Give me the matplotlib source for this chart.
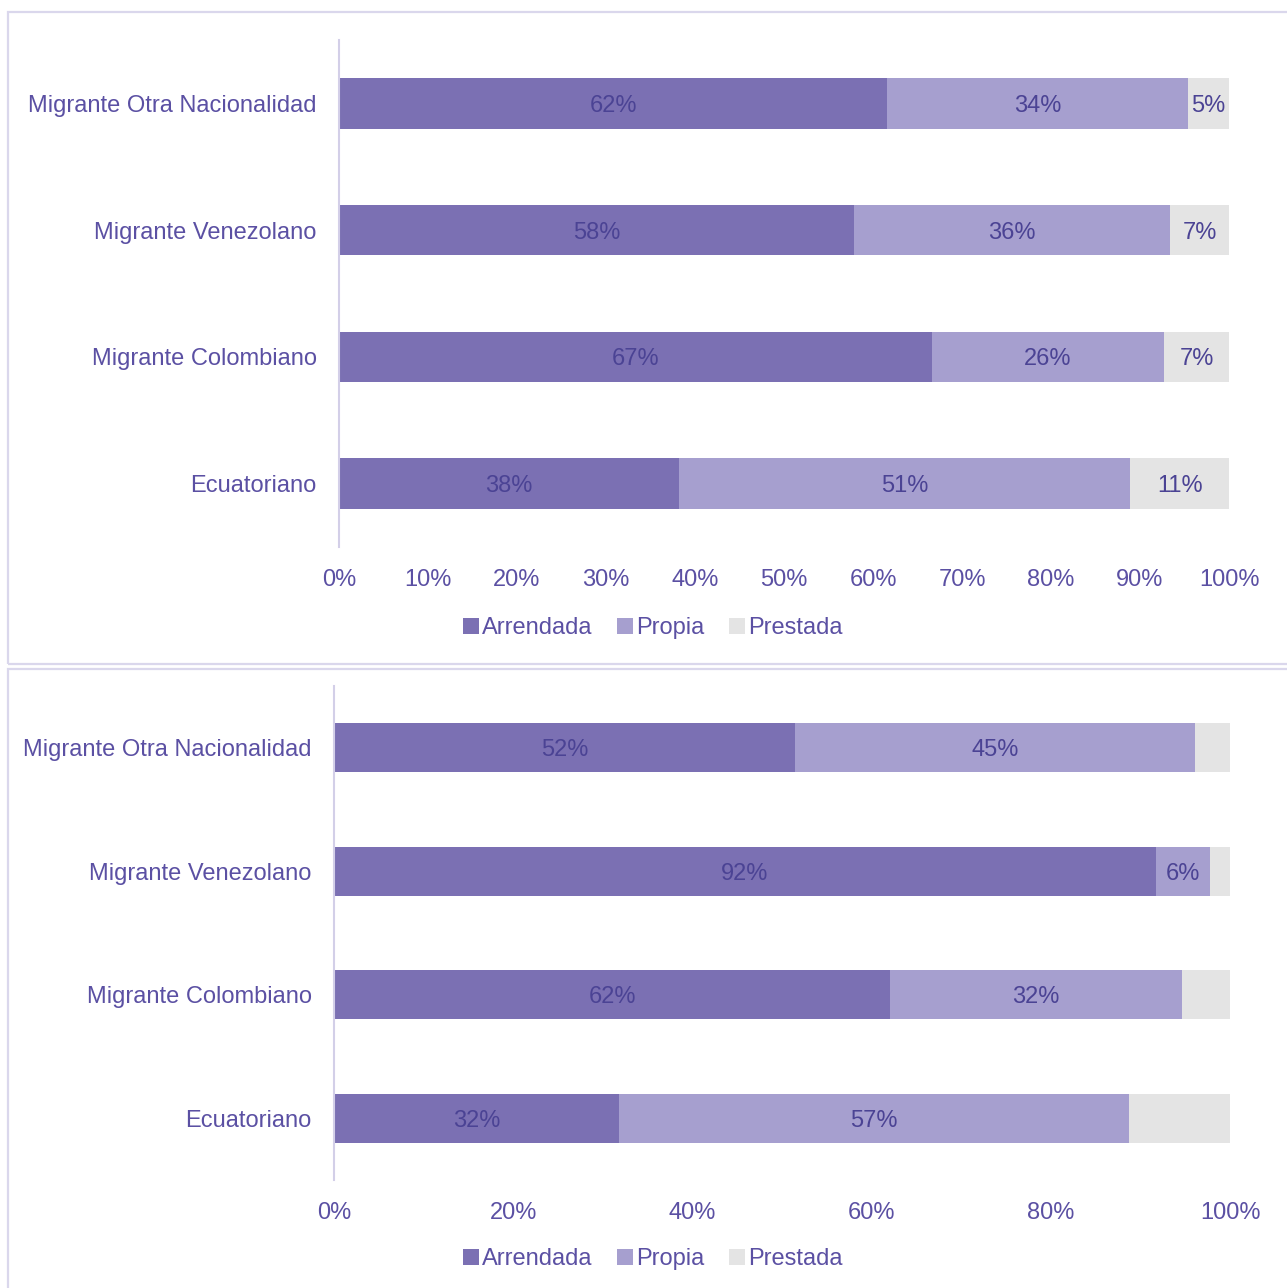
import matplotlib
matplotlib.use("Agg")
import matplotlib.pyplot as plt
from matplotlib.patches import Rectangle

plt.rcParams['font.family'] = ['Liberation Sans', 'DejaVu Sans']

# --- data
categorias = ["Migrante Otra Nacionalidad", "Migrante Venezolano",
              "Migrante Colombiano", "Ecuatoriano"]
series = ["Arrendada", "Propia", "Prestada"]

# panel superior
arrendada_1 = [61.6, 57.9, 66.6, 38.2]
propia_1 = [33.8, 35.5, 26.1, 50.7]
prestada_1 = [4.6, 6.6, 7.3, 11.1]

# panel inferior
arrendada_2 = [51.5, 91.7, 62.1, 31.8]
propia_2 = [44.6, 6.1, 32.5, 56.9]
prestada_2 = [3.9, 2.2, 5.4, 11.3]

ticks_1 = [0, 10, 20, 30, 40, 50, 60, 70, 80, 90, 100]
ticks_2 = [0, 20, 40, 60, 80, 100]
# ---

colores = ["#7B70B3", "#A69FCF", "#E4E4E4"]
txt_color = "#5B50A3"
lbl_color = "#4B4394"
borde = "#DAD7EC"
W, H = 1287, 1288
FS = 17

fig = plt.figure(figsize=(W / 100, H / 100), dpi=100)

# marcos de los paneles
fig.patches.append(Rectangle((8 / W, 1 - 664 / H), 1.1, 652 / H, transform=fig.transFigure,
                             fill=False, edgecolor=borde, linewidth=1.6))
fig.patches.append(Rectangle((8 / W, -0.1), 1.1, 0.1 + 1 - 669 / H, transform=fig.transFigure,
                             fill=False, edgecolor=borde, linewidth=1.6))


def panel(box, valores, ticks, etiquetar_prestada, legend_y):
    l, t, r, b = box
    ax = fig.add_axes([l / W, 1 - b / H, (r - l) / W, (b - t) / H])
    y = list(range(len(categorias)))
    left = [0] * len(categorias)
    for i, (vals, nombre) in enumerate(zip(valores, series)):
        bars = ax.barh(y, vals, left=left, height=0.4, color=colores[i], label=nombre)
        if i < 2 or etiquetar_prestada:
            for rect, v in zip(bars, vals):
                ax.text(rect.get_x() + rect.get_width() / 2, rect.get_y() + rect.get_height() / 2,
                        f"{round(v)}%", ha="center", va="center_baseline", fontsize=FS,
                        color=lbl_color)
        left = [a + v for a, v in zip(left, vals)]
    ax.set_xlim(0, 100)
    ax.set_ylim(3.5, -0.5)
    ax.set_yticks(y)
    ax.set_yticklabels(categorias)
    ax.set_xticks(ticks)
    ax.set_xticklabels([f"{v}%" for v in ticks])
    ax.tick_params(axis="both", length=0, labelsize=FS, colors=txt_color)
    ax.tick_params(axis="x", pad=16)
    ax.tick_params(axis="y", pad=16)
    for s in ["top", "right", "bottom"]:
        ax.spines[s].set_visible(False)
    ax.spines["left"].set_color("#D3CFE8")
    ax.spines["left"].set_linewidth(1.5)
    ax.legend(loc="center", bbox_to_anchor=(653 / W, 1 - legend_y / H),
              bbox_transform=fig.transFigure, ncol=3, frameon=False, fontsize=FS,
              handlelength=0.65, handleheight=0.65, handletextpad=0.15,
              columnspacing=1.05, labelcolor=txt_color)
    return ax


panel((339, 40, 1229, 547), [arrendada_1, propia_1, prestada_1], ticks_1, True, 628)
panel((334, 686, 1230, 1180), [arrendada_2, propia_2, prestada_2], ticks_2, False, 1259)

fig.savefig("out.png", dpi=100)
